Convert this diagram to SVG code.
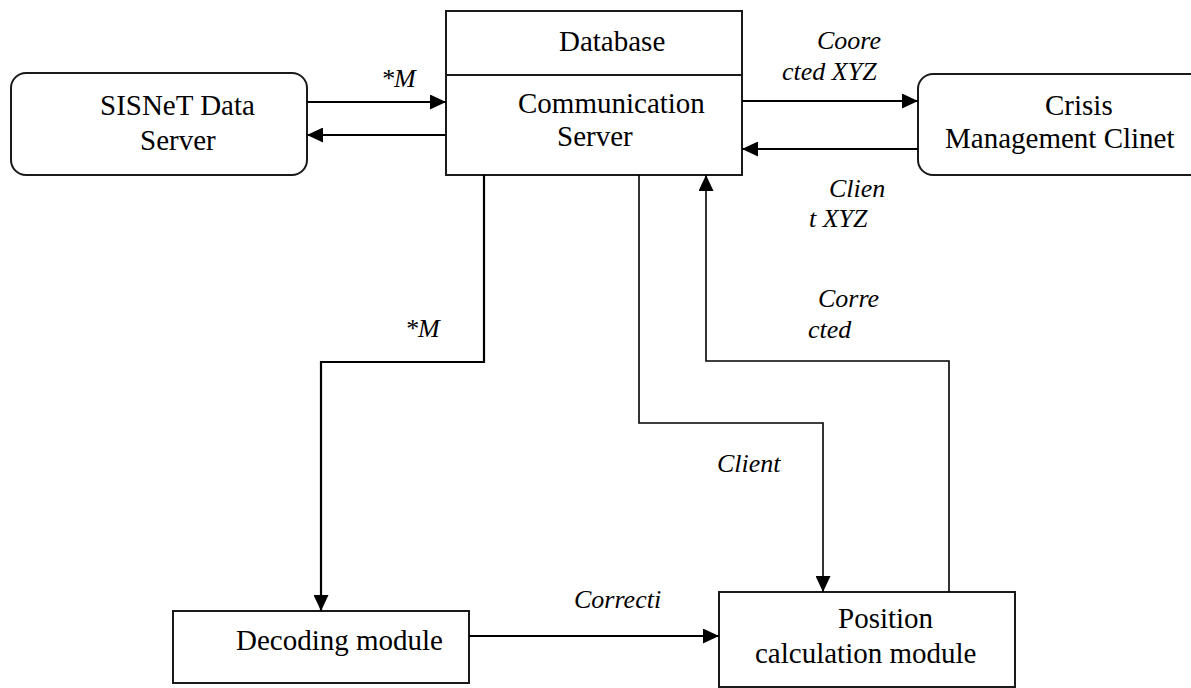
<svg xmlns="http://www.w3.org/2000/svg" width="1191" height="688" viewBox="0 0 1191 688">
  <style>
    .box { fill: #ffffff; stroke: #1a1a1a; stroke-width: 2; }
    .lbl { font-family: "Liberation Serif", "Times New Roman", serif; font-size: 29px; fill: #000; }
    .ital { font-family: "Liberation Serif", "Times New Roman", serif; font-size: 26px; font-style: italic; fill: #000; }
    .conn { fill: none; stroke: #000; stroke-width: 2.2; }
    .thin { stroke-width: 1.6; }
  </style>
  <defs>
    <marker id="arrow" markerUnits="userSpaceOnUse" markerWidth="16" markerHeight="15" refX="16" refY="7.5" orient="auto">
      <path d="M0,0 L16,7.5 L0,15 Z" fill="#000"/>
    </marker>
  </defs>
  <rect width="1191" height="688" fill="#ffffff"/>

  <g id="sisnet">
    <rect class="box" x="11" y="73" width="296" height="102" rx="15" ry="15"/>
    <text class="lbl" x="100" y="115">SISNeT Data</text>
    <text class="lbl" x="140" y="150">Server</text>
  </g>

  <g id="comm-server">
    <rect class="box" x="446" y="11" width="296" height="164"/>
    <line x1="446" y1="75" x2="742" y2="75" stroke="#1a1a1a" stroke-width="2"/>
    <text class="lbl" x="559" y="51">Database</text>
    <text class="lbl" x="518" y="113">Communication</text>
    <text class="lbl" x="557" y="146">Server</text>
  </g>

  <g id="crisis">
    <rect class="box" x="918" y="74" width="290" height="101" rx="15" ry="15"/>
    <text class="lbl" x="1045" y="115">Crisis</text>
    <text class="lbl" x="945" y="148">Management Clinet</text>
  </g>

  <g id="decoding">
    <rect class="box" x="173" y="611" width="296" height="72"/>
    <text class="lbl" x="236" y="650">Decoding module</text>
  </g>

  <g id="position">
    <rect class="box" x="719" y="592" width="296" height="95"/>
    <text class="lbl" x="838" y="628">Position</text>
    <text class="lbl" x="755" y="663">calculation module</text>
  </g>

  <g id="connectors">
    <line class="conn" x1="307" y1="102" x2="446" y2="102" marker-end="url(#arrow)"/>
    <line class="conn" x1="446" y1="135" x2="307" y2="135" marker-end="url(#arrow)"/>
    <line class="conn" x1="742" y1="101" x2="918" y2="101" marker-end="url(#arrow)"/>
    <line class="conn" x1="918" y1="149" x2="742" y2="149" marker-end="url(#arrow)"/>
    <polyline class="conn" points="484,175 484,362 321,362 321,611" marker-end="url(#arrow)"/>
    <polyline class="conn thin" points="639,175 639,423 823,423 823,592" marker-end="url(#arrow)"/>
    <polyline class="conn thin" points="949,592 949,361 706,361 706,175" marker-end="url(#arrow)"/>
    <line class="conn" x1="469" y1="636" x2="719" y2="636" marker-end="url(#arrow)"/>

    <text class="ital" x="381" y="87">*M</text>
    <text class="ital" x="817" y="49">Coore</text>
    <text class="ital" x="782" y="80">cted XYZ</text>
    <text class="ital" x="829" y="197">Clien</text>
    <text class="ital" x="809" y="227">t XYZ</text>
    <text class="ital" x="405" y="337">*M</text>
    <text class="ital" x="818" y="307">Corre</text>
    <text class="ital" x="808" y="338">cted</text>
    <text class="ital" x="717" y="472">Client</text>
    <text class="ital" x="574" y="608">Correcti</text>
  </g>
</svg>
